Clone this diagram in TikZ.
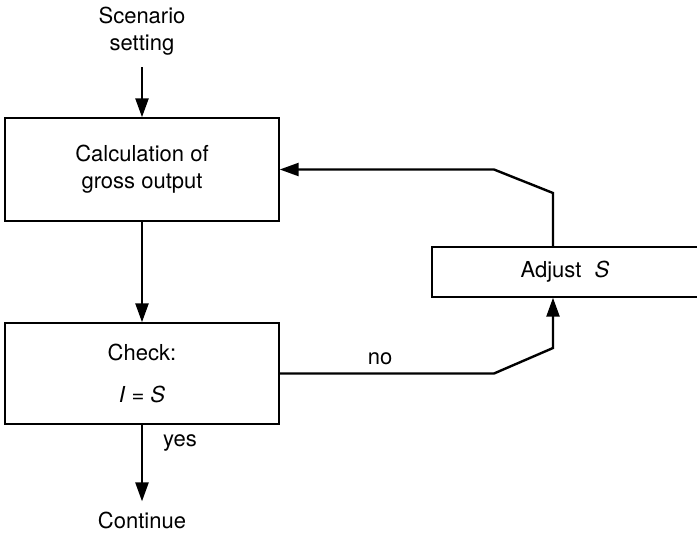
\documentclass[tikz,border=0pt]{standalone}
\usepackage{fontspec}
\setmainfont{TeX Gyre Heros}
\usetikzlibrary{arrows.meta}
\begin{document}
\begin{tikzpicture}[x=1pt,y=-1pt,
  font=\fontsize{22}{27}\selectfont,
  box/.style={draw, line width=1.4pt, inner sep=0pt, align=center},
  conn/.style={line width=2.4pt, -{Triangle[length=19pt,width=13pt]}},
  lbl/.style={inner sep=0pt, align=center}]
\clip (0,0) rectangle (697,533);
\fill[white] (0,0) rectangle (697,533);
% nodes
\node[lbl] (scen) at (142,31) {Scenario\\setting};
\node[box, minimum width=274pt, minimum height=103pt] (calc) at (142,169.5) {Calculation of\\gross output};
\node[box, minimum width=274pt, minimum height=101pt] (check) at (142,373.5) {Check:\\[15pt]\textit{I} = \textit{S}};
\node[box, minimum width=266pt, minimum height=50pt] (adjust) at (565,272) {Adjust\hspace{0.6em}\textit{S}};
\node[lbl] (cont) at (142,520) {Continue};
\node[lbl] (yes) at (180,443) {yes};
\node[lbl] (no) at (380,359) {no};
% helper coordinates
\coordinate (s1) at (142,67);
\coordinate (b1) at (494,373.5);
\coordinate (b2) at (553,348);
\coordinate (t1) at (553,193);
\coordinate (t2) at (494,169.5);
% connectors
\draw[conn] (s1) -- (s1 |- calc.north);
\draw[conn] (calc.south) -- (check.north);
\draw[conn, shorten >=10pt] (check.south) -- (cont.north);
\draw[conn] (check.east) -- (b1) -- (b2) -- (b2 |- adjust.south);
\draw[conn] (t1 |- adjust.north) -- (t1) -- (t2) -- (calc.east);
\end{tikzpicture}
\end{document}
